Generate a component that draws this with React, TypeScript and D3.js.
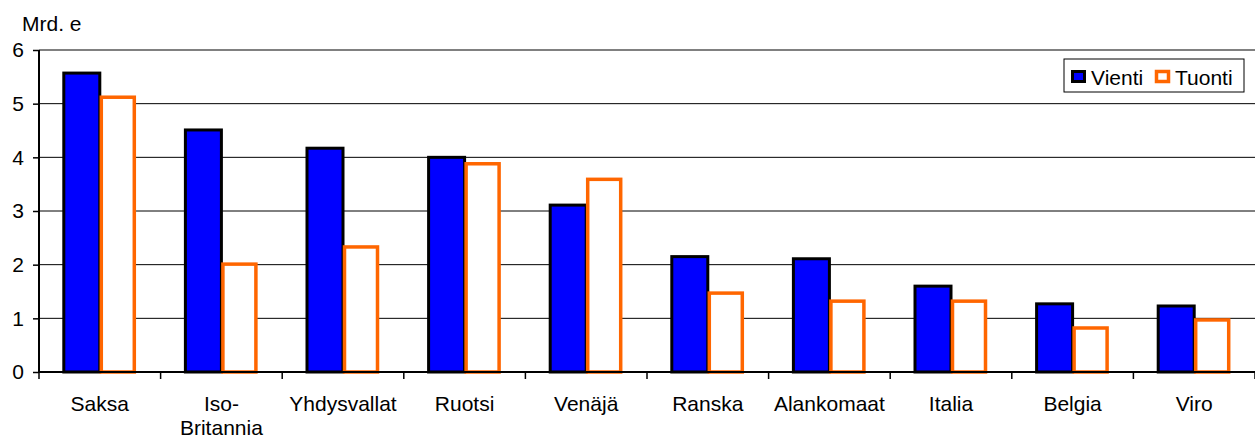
import React, { useRef, useEffect } from 'react';
import * as d3 from 'd3';

const categories = ['Saksa', 'Iso-\nBritannia', 'Yhdysvallat', 'Ruotsi', 'Venäjä', 'Ranska', 'Alankomaat', 'Italia', 'Belgia', 'Viro'];
const vienti = [5.57, 4.51, 4.17, 4.0, 3.11, 2.15, 2.11, 1.6, 1.27, 1.23];
const tuonti = [5.12, 2.01, 2.33, 3.88, 3.59, 1.47, 1.32, 1.32, 0.82, 0.97];
const yTicks = [0, 1, 2, 3, 4, 5, 6];

const App: React.FC = () => {
  const ref = useRef<SVGSVGElement>(null);

  useEffect(() => {
    const svg = d3.select(ref.current);
    svg.selectAll('*').remove();
    const font = 'Liberation Sans, Arial, sans-serif';
    const fs = 21;

    const left = 39, right = 1255, top = 50, bottom = 372;
    const x = d3.scaleBand<string>().domain(categories).range([left, right]).paddingInner(0).paddingOuter(0);
    const y = d3.scaleLinear().domain([0, 6]).range([bottom, top]);
    const barW = 36;

    // gridlines
    svg.append('g').selectAll('line').data(yTicks.filter(t => t > 0)).join('line')
      .attr('x1', left).attr('x2', right)
      .attr('y1', d => y(d)).attr('y2', d => y(d))
      .attr('stroke', d => d === 6 ? '#808080' : '#000')
      .attr('stroke-width', d => d === 6 ? 2 : 1);

    const g = svg.append('g').selectAll('g').data(categories).join('g')
      .attr('transform', d => `translate(${x(d)! + x.bandwidth() / 2},0)`);

    g.append('rect')
      .attr('x', -barW)
      .attr('y', (_, i) => y(vienti[i]))
      .attr('width', barW)
      .attr('height', (_, i) => bottom - y(vienti[i]))
      .attr('fill', '#0000ff').attr('stroke', '#000').attr('stroke-width', 3);

    g.append('rect')
      .attr('x', 1.5)
      .attr('y', (_, i) => y(tuonti[i]))
      .attr('width', barW - 3)
      .attr('height', (_, i) => bottom - y(tuonti[i]))
      .attr('fill', '#fff').attr('stroke', '#ff6600').attr('stroke-width', 3.5);

    // axes
    const yAxis = svg.append('g').attr('transform', `translate(${left},0)`)
      .call(d3.axisLeft(y).tickValues(yTicks).tickSize(6).tickPadding(9).tickFormat(d3.format('d')));
    yAxis.select('.domain').attr('stroke', '#000').attr('stroke-width', 2).attr('d', `M0,${top}V${bottom}`);
    yAxis.selectAll('.tick line').attr('stroke', '#000').attr('stroke-width', 1.5);
    yAxis.selectAll('text').attr('font-family', font).attr('font-size', fs).attr('fill', '#000');

    const xAxis = svg.append('g').attr('transform', `translate(0,${bottom})`)
      .call(d3.axisBottom(x).tickSize(0).tickFormat(() => ''));
    xAxis.select('.domain').attr('stroke', '#000').attr('stroke-width', 2).attr('d', `M${left},0H${right}`);
    const tickPos = d3.range(categories.length + 1).map(i => left + i * x.bandwidth());
    xAxis.selectAll('.sep').data(tickPos).join('line').attr('class', 'sep')
      .attr('x1', d => d).attr('x2', d => d).attr('y1', 0).attr('y2', 7)
      .attr('stroke', '#000').attr('stroke-width', 1.5);

    const labels = svg.append('g').selectAll('text').data(categories).join('text')
      .attr('x', d => x(d)! + x.bandwidth() / 2)
      .attr('y', 411)
      .attr('text-anchor', 'middle')
      .attr('font-family', font).attr('font-size', fs).attr('fill', '#000');
    labels.selectAll('tspan').data(d => d.split('\n')).join('tspan')
      .attr('x', function () { return (this.parentNode as SVGTextElement).getAttribute('x'); })
      .attr('dy', (_, i) => i === 0 ? 0 : 24)
      .text(d => d);

    svg.append('text').attr('x', 22).attr('y', 31).text('Mrd. e')
      .attr('font-family', font).attr('font-size', fs).attr('fill', '#000');

    // legend
    const lg = svg.append('g').attr('transform', 'translate(1064,59)');
    lg.append('rect').attr('width', 180).attr('height', 33).attr('fill', '#fff').attr('stroke', '#000').attr('stroke-width', 1);
    lg.append('rect').attr('x', 8.5).attr('y', 12.5).attr('width', 12).attr('height', 10)
      .attr('fill', '#0000ff').attr('stroke', '#000').attr('stroke-width', 3);
    lg.append('text').attr('x', 27).attr('y', 26).text('Vienti')
      .attr('font-family', font).attr('font-size', fs).attr('fill', '#000');
    lg.append('rect').attr('x', 92.5).attr('y', 12.5).attr('width', 12).attr('height', 10)
      .attr('fill', '#fff').attr('stroke', '#ff6600').attr('stroke-width', 3.5);
    lg.append('text').attr('x', 111).attr('y', 26).text('Tuonti')
      .attr('font-family', font).attr('font-size', fs).attr('fill', '#000');
  }, []);

  return <svg ref={ref} width={1255} height={439} style={{ position: 'absolute', left: 0, top: 0, background: '#fff' }} />;
};

export default App;
